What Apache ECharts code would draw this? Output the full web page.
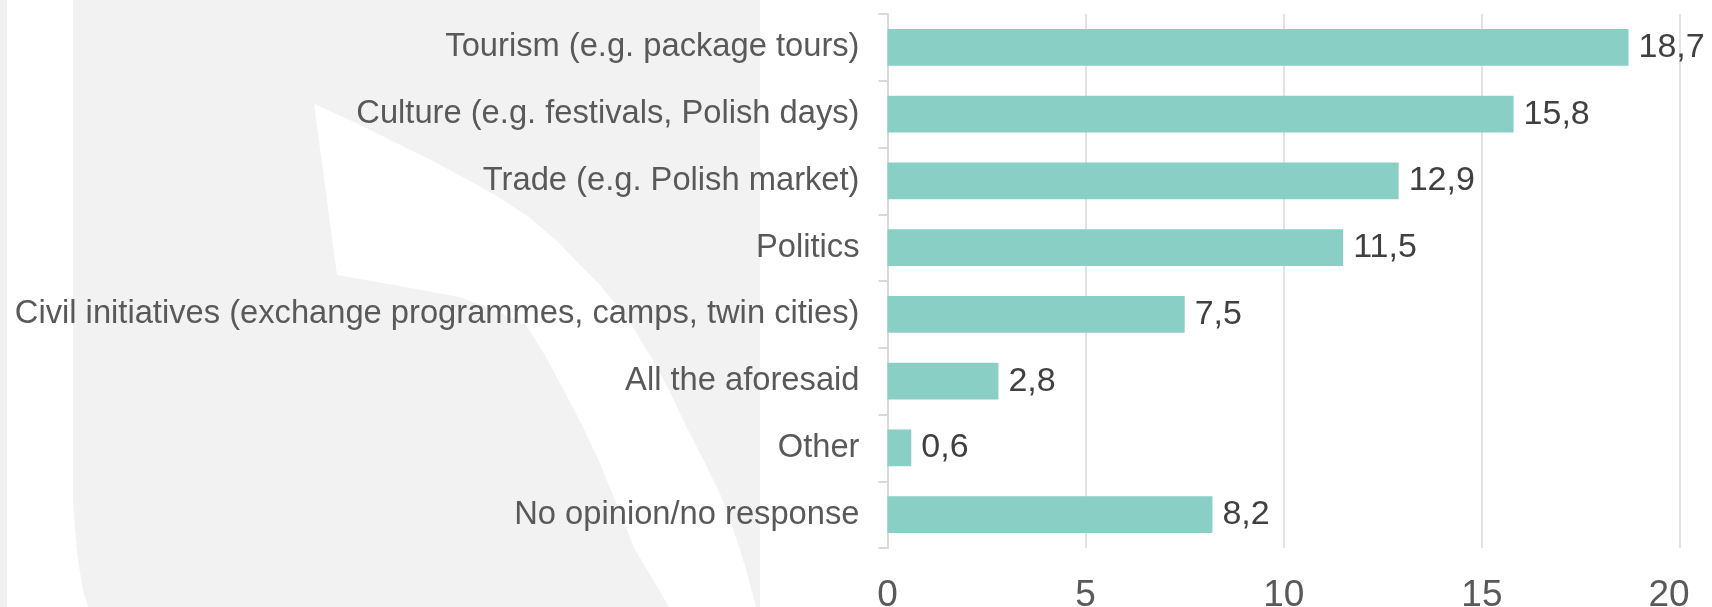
<!DOCTYPE html>
<html>
<head>
<meta charset="utf-8">
<script src="https://cdn.jsdelivr.net/npm/echarts@6/dist/echarts.min.js"></script>
<style>html,body{margin:0;padding:0;background:#fff}#c{width:1712px;height:607px}</style>
</head>
<body>
<div id="c"></div>
<script>
const categories = [
  'Tourism (e.g. package tours)',
  'Culture (e.g. festivals, Polish days)',
  'Trade (e.g. Polish market)',
  'Politics',
  'Civil initiatives (exchange programmes, camps, twin cities)',
  'All the aforesaid',
  'Other',
  'No opinion/no response'
];
const values = [18.7, 15.8, 12.9, 11.5, 7.5, 2.8, 0.6, 8.2];
const xTicks = [0, 5, 10, 15, 20];

const FONT = '"Liberation Sans", Arial, sans-serif';
const chart = echarts.init(document.getElementById('c'), null, {renderer: 'canvas'});
const xMax = xTicks[xTicks.length - 1];
chart.setOption({
  animation: false,
  backgroundColor: '#ffffff',
  graphic: [
    {type: 'rect', z: -10, silent: true, shape: {x: 0, y: 0, width: 7, height: 607}, style: {fill: '#f0f0f0'}},
    {type: 'rect', z: -10, silent: true, shape: {x: 73, y: 0, width: 687, height: 607}, style: {fill: '#f2f2f2'}},
    {type: 'polygon', z: -9, silent: true, shape: {points: [[73,500],[75,530],[78,560],[83,590],[88,607],[73,607]]}, style: {fill: '#ffffff'}},
    {type: 'polygon', z: -9, silent: true, shape: {points: [
      [314,104],[352,121],[390,140],[425,157],[459,175],[495,195],[529,217],[557,241],[581,266],[600,285],[616,304],
      [634,329],[651,357],[669,390],[686,426],[704,461],[721,496],[734,531],[745,566],[756,607],
      [669,607],[652,578],[634,548],[617,505],[599,461],[582,425],[564,391],[546,357],[526,325],[495,310],[459,297],[400,286],[337,275]
    ]}, style: {fill: '#ffffff'}}
  ],
  grid: {left: 887.5, right: 32, top: 14, bottom: 59, containLabel: false, outerBoundsMode: 'none'},
  xAxis: {
    type: 'value', min: xTicks[0], max: xMax, interval: 5,
    axisLine: {show: false}, axisTick: {show: false},
    splitLine: {show: true, lineStyle: {color: '#d9d9d9', width: 1.5}},
    axisLabel: {
      fontSize: 37, color: '#595959', fontFamily: FONT, margin: 29,
      formatter: v => v === xMax ? '{last|' + v + '}' : String(v),
      rich: {last: {fontSize: 37, color: '#595959', fontFamily: FONT, padding: [0, 22, 0, 0]}}
    }
  },
  yAxis: {
    type: 'category', data: categories, inverse: true,
    axisLine: {show: true, lineStyle: {color: '#d9d9d9', width: 2}},
    axisTick: {show: true, inside: false, length: 9, alignWithLabel: false, lineStyle: {color: '#d9d9d9', width: 2}},
    axisLabel: {fontSize: 32.7, color: '#595959', fontFamily: FONT, margin: 28, padding: [6, 0, 0, 0]}
  },
  series: [{
    type: 'bar', data: values, barWidth: '55%',
    itemStyle: {color: '#8acfc6'},
    label: {
      show: true, position: 'right', distance: 10, fontSize: 34, color: '#404040', fontFamily: FONT,
      padding: [6, 0, 0, 0],
      formatter: p => p.value.toFixed(1).replace('.', ',')
    }
  }]
});
</script>
</body>
</html>
